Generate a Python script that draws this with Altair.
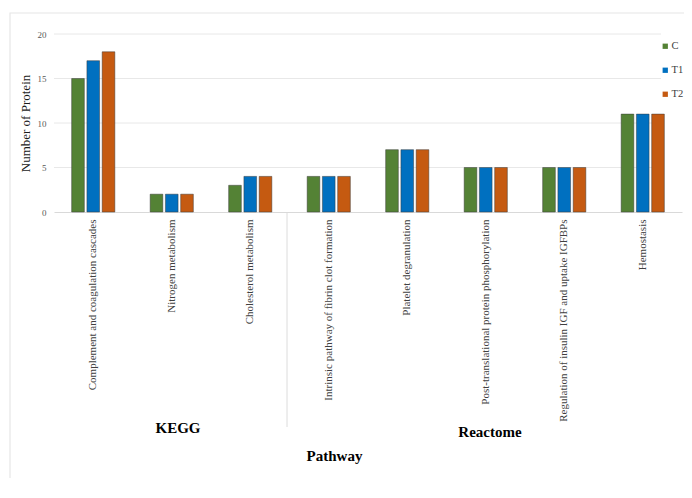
import altair as alt
import pandas as pd

categories = [
    "Complement and coagulation cascades",
    "Nitrogen metabolism",
    "Cholesterol metabolism",
    "Intrinsic pathway of fibrin clot formation",
    "Platelet degranulation",
    "Post-translational protein phosphorylation",
    "Regulation of insulin IGF and uptake IGFBPs",
    "Hemostasis",
]
series = ["C", "T1", "T2"]
values_C = [15, 2, 3, 4, 7, 5, 5, 11]
values_T1 = [17, 2, 4, 4, 7, 5, 5, 11]
values_T2 = [18, 2, 4, 4, 7, 5, 5, 11]
colors = ["#548235", "#0070C0", "#C55A11"]
grid_values = [5, 10, 15, 20]

rows = []
for s, vals in zip(series, [values_C, values_T1, values_T2]):
    for c, v in zip(categories, vals):
        rows.append({"Pathway": c, "Group": s, "Count": v})
df = pd.DataFrame(rows)

SERIF = "Liberation Serif"
W, H = 628, 178

xscale = alt.Scale(domain=categories, paddingInner=0.45, paddingOuter=0.225)

bars = alt.Chart(df).mark_bar(
    stroke="#3a3a3a", strokeWidth=0.7, strokeOpacity=0.7
).encode(
    x=alt.X(
        "Pathway:N",
        sort=categories,
        scale=xscale,
        axis=alt.Axis(
            title="Pathway",
            titleFont=SERIF,
            titleFontSize=15,
            titleFontWeight="bold",
            titleColor="#000000",
            titleX=280,
            titleY=243,
            titleBaseline="middle",
            labelAngle=270,
            labelFont=SERIF,
            labelFontSize=11,
            labelColor="#404040",
            labelPadding=7,
            labelLimit=300,
            labelOverlap=False,
            ticks=False,
            domainColor="#d9d9d9",
            grid=False,
        ),
    ),
    xOffset=alt.XOffset("Group:N", sort=series, scale=alt.Scale(paddingInner=0.17)),
    y=alt.Y(
        "Count:Q",
        scale=alt.Scale(domain=[0, 20]),
        axis=alt.Axis(
            title="Number of Protein",
            titleFont=SERIF,
            titleFontSize=13,
            titleFontWeight="normal",
            titleColor="#1a1a1a",
            titlePadding=5,
            values=[0, 5, 10, 15, 20],
            labelFont=SERIF,
            labelFontSize=9,
            labelColor="#595959",
            labelPadding=8,
            ticks=False,
            domain=False,
            grid=False,
        ),
    ),
    color=alt.Color(
        "Group:N",
        sort=series,
        scale=alt.Scale(domain=series, range=colors),
        legend=alt.Legend(
            title=None,
            orient="none",
            legendX=606,
            legendY=7,
            symbolType="square",
            symbolSize=28,
            symbolStrokeWidth=0,
            labelFont=SERIF,
            labelFontSize=10.5,
            labelColor="#404040",
            rowPadding=13,
            labelOffset=1,
        ),
    ),
)

grid = alt.Chart(pd.DataFrame({"v": grid_values})).mark_rule(
    color="#e8e8e8", strokeWidth=1
).encode(
    y=alt.Y("v:Q"),
    x=alt.value(0),
    x2=alt.value(607),
)

border = alt.Chart(pd.DataFrame({"a": [0]})).mark_rect(
    fillOpacity=0, stroke="#e6e6e6", strokeWidth=1.2
).encode(
    x=alt.value(-44), x2=alt.value(720), y=alt.value(-21), y2=alt.value(700)
)

sep = alt.Chart(pd.DataFrame({"a": [0]})).mark_rule(
    color="#dcdcdc", strokeWidth=1
).encode(
    x=alt.value(233), y=alt.value(179), y2=alt.value(393)
)

kegg = alt.Chart(pd.DataFrame({"t": ["KEGG"]})).mark_text(
    font=SERIF, fontSize=15, fontWeight="bold", color="#000000", baseline="middle"
).encode(
    text="t:N", x=alt.value(124), y=alt.value(394)
)

reactome = alt.Chart(pd.DataFrame({"t": ["Reactome"]})).mark_text(
    font=SERIF, fontSize=15, fontWeight="bold", color="#000000", baseline="middle"
).encode(
    text="t:N", x=alt.value(436), y=alt.value(398)
)

chart = alt.layer(border, grid, sep, bars, kegg, reactome).properties(
    width=W,
    height=H,
    autosize=alt.AutoSizeParams(type="none"),
    padding={"left": 46, "top": 26, "right": 2, "bottom": 266},
    background="#ffffff",
).configure_view(stroke=None)

chart.save("out.html", embed_options={"renderer": "svg", "actions": False})
